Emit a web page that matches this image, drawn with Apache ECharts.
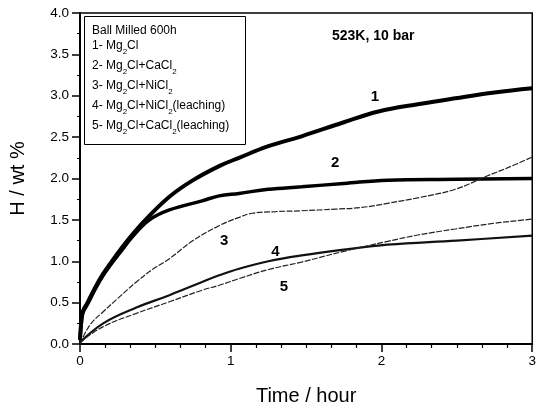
<!DOCTYPE html>
<html><head><meta charset="utf-8">
<script src="https://cdn.jsdelivr.net/npm/echarts@6/dist/echarts.min.js"></script>
<style>html,body{margin:0;padding:0;background:#fff}#c{width:539px;height:411px}</style>
</head><body><div id="c"></div>
<script>
// Data: [time (hour), H wt%]
const curve1 = [[0,0.05],[0.01,0.3],[0.02,0.4],[0.05,0.5],[0.1,0.68],[0.154,0.85],[0.2,0.97],[0.264,1.13],[0.35,1.33],[0.461,1.55],[0.593,1.78],[0.75,1.98],[0.923,2.15],[1.055,2.25],[1.25,2.39],[1.47,2.51],[1.75,2.68],[1.98,2.81],[2.25,2.9],[2.49,2.97],[2.75,3.04],[3.0,3.09]];
const curve2 = [[0,0.05],[0.01,0.28],[0.02,0.38],[0.05,0.48],[0.1,0.66],[0.154,0.83],[0.2,0.95],[0.264,1.1],[0.35,1.3],[0.461,1.5],[0.593,1.62],[0.81,1.73],[0.923,1.79],[1.055,1.82],[1.25,1.87],[1.47,1.9],[1.75,1.94],[2.04,1.98],[2.5,1.99],[3.0,2.0]];
const curve3 = [[0,0],[0.066,0.23],[0.154,0.39],[0.25,0.55],[0.374,0.75],[0.48,0.9],[0.593,1.03],[0.75,1.25],[0.923,1.43],[1.055,1.53],[1.143,1.58],[1.3,1.6],[1.47,1.61],[1.7,1.63],[1.87,1.65],[2.04,1.7],[2.25,1.77],[2.49,1.87],[2.7,2.03],[2.85,2.14],[3.0,2.26]];
const curve4 = [[0,0.02],[0.154,0.25],[0.374,0.44],[0.593,0.59],[0.81,0.75],[0.923,0.83],[1.055,0.91],[1.25,1.0],[1.47,1.07],[1.75,1.14],[2.04,1.2],[2.5,1.25],[3.0,1.31]];
const curve5 = [[0,0.02],[0.154,0.21],[0.374,0.37],[0.593,0.51],[0.81,0.65],[0.923,0.71],[1.055,0.79],[1.25,0.9],[1.47,0.99],[1.75,1.12],[2.04,1.24],[2.25,1.32],[2.49,1.39],[2.75,1.46],[2.9,1.49],[3.0,1.51]];
const curveLabels = ['1','2','3','4','5'];
const labelPos = [[1.956,2.99],[1.692,2.19],[0.956,1.25],[1.297,1.11],[1.352,0.69]];
const legendTitle = 'Ball Milled 600h';
const legendLines = ['1- Mg{s|2}Cl','2- Mg{s|2}Cl+CaCl{s|2}','3- Mg{s|2}Cl+NiCl{s|2}','4- Mg{s|2}Cl+NiCl{s|2}(leaching)','5- Mg{s|2}Cl+CaCl{s|2}(leaching)'];
const conditionText = '523K, 10 bar';
const xTicks = [0,1,2,3];
const yTicks = [0,0.5,1,1.5,2,2.5,3,3.5,4];

const FONT = 'Liberation Sans, Arial, sans-serif';
const chart = echarts.init(document.getElementById('c'), null, {renderer:'canvas'});
const styles = [
  {width:4, color:'#000', type:'solid'},
  {width:3.5, color:'#000', type:'solid'},
  {width:1.2, color:'#222', type:[6,1.5]},
  {width:2.2, color:'#111', type:'solid'},
  {width:1.2, color:'#222', type:[6,1.5]}
];
const datas = [curve1,curve2,curve3,curve4,curve5];
const series = datas.map((d,i)=>({
  type:'line', data:d, smooth:0.4, showSymbol:false, symbol:'none',
  lineStyle:styles[i], z: 3,
  markPoint: {
    symbol:'circle', symbolSize:1, silent:true, animation:false,
    itemStyle:{color:'rgba(0,0,0,0)'},
    data:[{coord:labelPos[i], value:curveLabels[i]}],
    label:{show:true, position:'inside', formatter:curveLabels[i], color:'#000', fontSize:15, fontFamily:FONT, fontWeight:'bold'}
  }
}));
const legendGraphics = [
  {type:'rect', left:84, top:16, shape:{width:161, height:128}, style:{fill:'#fff', stroke:'#000', lineWidth:1}, z:10},
  {type:'text', left:92, top:25, style:{text:legendTitle, font:'12px '+FONT, fill:'#000'}, z:11}
].concat(legendLines.map((t,i)=>({
  type:'text', left:92, top:40 + i*20,
  style:{text:t, fill:'#000', fontSize:12, fontFamily:FONT,
    rich:{s:{fontSize:8, fontFamily:FONT, verticalAlign:'bottom', lineHeight:20, fill:'#000'}}},
  z:11
})));
legendGraphics.push({type:'text', left:332, top:29, style:{text:conditionText, font:'bold 14px '+FONT, fill:'#000'}, z:11});

chart.setOption({
  animation:false,
  backgroundColor:'#fff',
  grid:{left:80, right:4, top:13, bottom:65, show:true, borderColor:'#000', borderWidth:1.5, backgroundColor:'transparent'},
  xAxis:{type:'value', min:0, max:3, interval:1,
    name:'Time / hour', nameLocation:'middle', nameGap:42,
    nameTextStyle:{fontSize:20, fontFamily:FONT, color:'#000'},
    axisLine:{show:true, lineStyle:{color:'#000', width:2}},
    axisTick:{show:true, length:8, lineStyle:{color:'#000', width:1.5}},
    minorTick:{show:true, splitNumber:6, length:4, lineStyle:{color:'#000', width:1.2}},
    axisLabel:{fontSize:13.5, fontFamily:FONT, color:'#000', margin:10,
      formatter:v=> xTicks.includes(v)? String(v):''},
    splitLine:{show:false}},
  yAxis:{type:'value', min:0, max:4, interval:0.5,
    name:'H / wt %', nameLocation:'middle', nameGap:52, nameRotate:90,
    nameTextStyle:{fontSize:20, fontFamily:FONT, color:'#000'},
    axisLine:{show:true, lineStyle:{color:'#000', width:2}},
    axisTick:{show:true, length:8, lineStyle:{color:'#000', width:1.5}},
    minorTick:{show:true, splitNumber:2, length:3, lineStyle:{color:'#000', width:1}},
    axisLabel:{fontSize:13.5, fontFamily:FONT, color:'#000', margin:11,
      formatter:v=> yTicks.includes(v)? v.toFixed(1):''},
    splitLine:{show:false}},
  series:series,
  graphic:legendGraphics
});
</script></body></html>
